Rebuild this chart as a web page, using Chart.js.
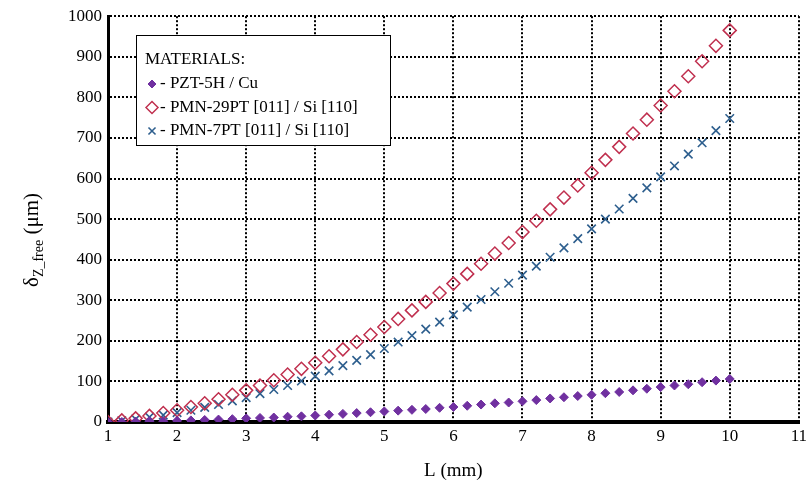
<!DOCTYPE html>
<html>
<head>
<meta charset="utf-8">
<script src="https://cdn.jsdelivr.net/npm/chart.js@4/dist/chart.umd.min.js"></script>
<style>
  html, body { margin: 0; padding: 0; background: #fff; }
  #wrap { width: 811px; height: 486px; }
</style>
</head>
<body>
<div id="wrap"><canvas id="chart"></canvas></div>
<script>
const lengths = [1.0, 1.2, 1.4, 1.6, 1.8, 2.0, 2.2, 2.4, 2.6, 2.8, 3.0, 3.2, 3.4, 3.6, 3.8, 4.0,
    4.2, 4.4, 4.6, 4.8, 5.0, 5.2, 5.4, 5.6, 5.8, 6.0, 6.2, 6.4, 6.6, 6.8, 7.0, 7.2, 7.4, 7.6, 7.8,
    8.0, 8.2, 8.4, 8.6, 8.8, 9.0, 9.2, 9.4, 9.6, 9.8, 10.0];

const pzt5hCu = [0, 0, 1, 2, 2, 3, 4, 5, 6, 7, 9, 10, 11, 13, 14, 16, 18, 20, 22, 24, 26, 28, 30,
    32, 35, 37, 40, 43, 46, 48, 51, 54, 58, 61, 64, 67, 71, 74, 78, 82, 86, 90, 93, 98, 102, 106];

const pmn29pt = [0, 4, 9, 15, 22, 29, 37, 46, 56, 67, 78, 90, 103, 117, 131, 146, 162, 179, 197,
    215, 234, 254, 275, 296, 318, 341, 365, 390, 415, 441, 468, 496, 524, 553, 583, 614, 646, 678,
    711, 745, 780, 815, 852, 889, 927, 965];

const pmn7pt = [0, 3, 7, 12, 17, 23, 29, 36, 43, 52, 60, 70, 80, 90, 101, 113, 126, 139, 152, 166,
    181, 197, 213, 229, 246, 264, 283, 302, 321, 342, 362, 384, 406, 429, 452, 476, 500, 525, 551,
    577, 604, 631, 660, 688, 718, 748];

const seriesNames = ['PZT-5H / Cu', 'PMN-29PT [011] / Si [110]', 'PMN-7PT [011] / Si [110]'];
const legendTitle = 'MATERIALS:';
const serif = "'Liberation Serif', 'DejaVu Serif', serif";

function pts(ys) {
    return ys.map((y, i) => ({ x: lengths[i], y: y }));
}

// y title has a subscript, so draw it by hand
const yTitle = {
    id: 'yTitle',
    afterDraw(chart) {
        const ctx = chart.ctx;
        ctx.save();
        ctx.translate(38, 240);
        ctx.rotate(-Math.PI / 2);
        ctx.fillStyle = '#000';
        ctx.textBaseline = 'alphabetic';
        const big = '21px ' + serif, small = '14px ' + serif;
        ctx.font = big; const w1 = ctx.measureText('\u03b4').width;
        ctx.font = small; const w2 = ctx.measureText('Z_free').width;
        ctx.font = big; const w3 = ctx.measureText(' (\u03bcm)').width;
        let x = -(w1 + w2 + w3) / 2;
        ctx.font = big; ctx.fillText('\u03b4', x, 0); x += w1;
        ctx.font = small; ctx.fillText('Z_free', x, 5); x += w2;
        ctx.font = big; ctx.fillText(' (\u03bcm)', x, 0);
        ctx.restore();
    }
};

// boxed legend inside the plot
const boxLegend = {
    id: 'boxLegend',
    afterDraw(chart) {
        const ctx = chart.ctx;
        const left = 136, top = 35, w = 254, h = 110;
        ctx.save();
        ctx.fillStyle = '#fff';
        ctx.fillRect(left, top, w, h);
        ctx.strokeStyle = '#000';
        ctx.lineWidth = 1;
        ctx.strokeRect(left + 0.5, top + 0.5, w, h);
        ctx.fillStyle = '#000';
        ctx.font = '17px ' + serif;
        ctx.textBaseline = 'middle';
        ctx.fillText(legendTitle, 145, 60);
        chart.data.datasets.forEach((ds, i) => {
            const y = 84 + i * 23.5;
            ctx.strokeStyle = ds.borderColor;
            ctx.fillStyle = ds.backgroundColor;
            ctx.lineWidth = ds.borderWidth;
            Chart.helpers.drawPoint(ctx, {
                pointStyle: ds.pointStyle,
                radius: ds.pointStyle === 'crossRot' ? 5 : (i === 0 ? 4 : 6),
                borderWidth: ds.borderWidth
            }, 152, y);
            ctx.fillStyle = '#000';
            ctx.fillText('- ' + ds.label, 160, y);
        });
        ctx.restore();
    }
};

new Chart(document.getElementById('chart'), {
    type: 'scatter',
    data: {
        datasets: [
            {
                label: seriesNames[0],
                data: pts(pzt5hCu),
                pointStyle: 'rectRot',
                pointRadius: 4.5,
                backgroundColor: '#7030a0',
                borderColor: '#7030a0',
                borderWidth: 1
            },
            {
                label: seriesNames[1],
                data: pts(pmn29pt),
                pointStyle: 'rectRot',
                pointRadius: 6.5,
                backgroundColor: 'rgba(0,0,0,0)',
                borderColor: '#c0304f',
                borderWidth: 1.5
            },
            {
                label: seriesNames[2],
                data: pts(pmn7pt),
                pointStyle: 'crossRot',
                pointRadius: 6,
                backgroundColor: '#2e5f8e',
                borderColor: '#2e5f8e',
                borderWidth: 1.6
            }
        ]
    },
    options: {
        responsive: true,
        maintainAspectRatio: false,
        animation: false,
        layout: { padding: { left: 0, right: 11, top: 15, bottom: 0 } },
        plugins: {
            legend: { display: false },
            tooltip: { enabled: false }
        },
        scales: {
            x: {
                type: 'linear',
                min: 1,
                max: 11,
                ticks: { stepSize: 1, color: '#000', font: { family: serif, size: 17 }, padding: 4 },
                grid: { color: '#000', lineWidth: 2, drawTicks: false },
                border: { color: '#000', width: 4, dash: [2, 2] },
                title: { display: true, text: 'L (mm)', color: '#000', font: { family: serif, size: 19 }, padding: { top: 6 } },
                afterFit: (s) => { s.height = 64; }
            },
            y: {
                min: 0,
                max: 1000,
                ticks: { stepSize: 100, color: '#000', font: { family: serif, size: 17 }, padding: 6,
                    callback: (value) => String(value) },
                grid: { color: '#000', lineWidth: 2, drawTicks: false },
                border: { color: '#000', width: 3, dash: [2, 2] },
                afterFit: (s) => { s.width = 108; }
            }
        }
    },
    plugins: [yTitle, boxLegend]
});
</script>
</body>
</html>
